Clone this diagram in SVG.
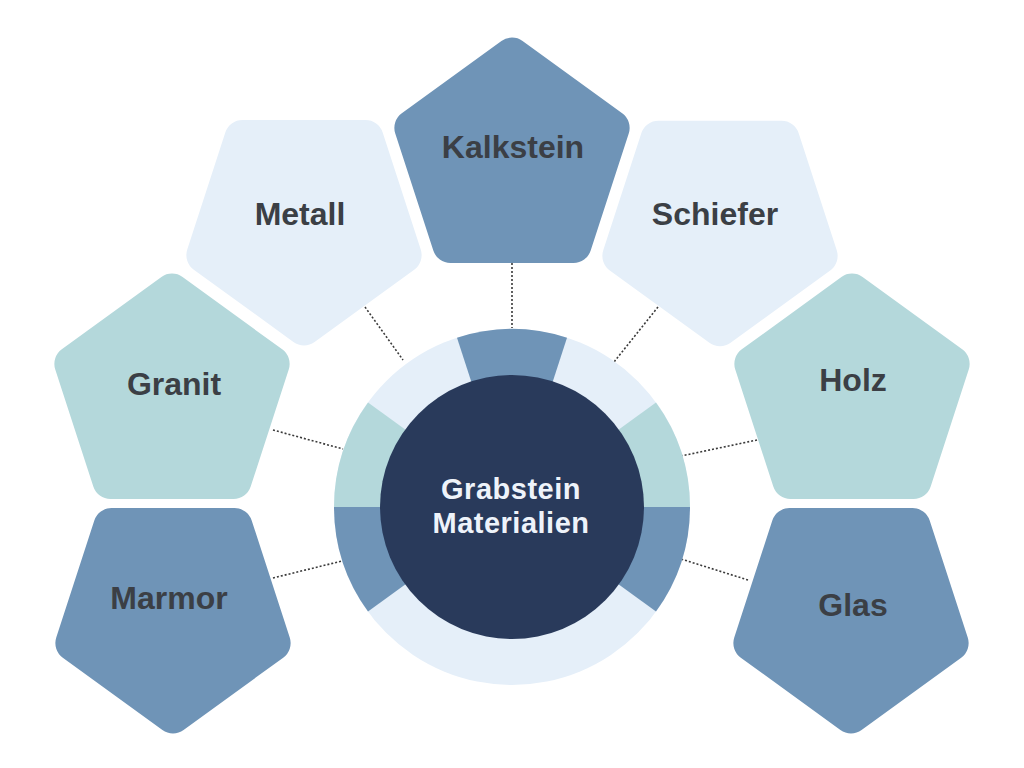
<svg xmlns="http://www.w3.org/2000/svg" xmlns:xlink="http://www.w3.org/1999/xlink" width="1024" height="768" viewBox="0 0 1024 768">
<style>
.lbl{font-family:"Liberation Sans","Noto Sans",Arial,sans-serif;font-weight:bold;font-size:32px;fill:#3b3f45;text-anchor:middle}
.ctr{font-family:"Liberation Sans","Noto Sans",Arial,sans-serif;font-weight:bold;font-size:29px;letter-spacing:0.5px;fill:#eef3fa;text-anchor:middle}
.blue{fill:#6f94b7}
.teal{fill:#b4d8db}
.light{fill:#e5eff9}
.conn{stroke:#3a3a3a;stroke-width:1.6;stroke-dasharray:2 2;fill:none}
</style>
<defs>
<path id="pent" d="M-10.58,-119.31 A18,18 0 0 1 10.58,-119.31 L110.20,-46.93 A18,18 0 0 1 116.74,-26.80 L78.69,90.30 A18,18 0 0 1 61.57,102.74 L-61.57,102.74 A18,18 0 0 1 -78.69,90.30 L-116.74,-26.80 A18,18 0 0 1 -110.20,-46.93 Z"/>
</defs>
<rect width="1024" height="768" fill="#ffffff"/>
<g id="connectors">
<line class="conn" x1="512" y1="263" x2="512" y2="328"/>
<line class="conn" x1="365" y1="307" x2="403" y2="360"/>
<line class="conn" x1="658" y1="307" x2="614" y2="362"/>
<line class="conn" x1="273" y1="430" x2="343" y2="449"/>
<line class="conn" x1="757" y1="440" x2="681" y2="456"/>
<line class="conn" x1="273" y1="578" x2="342" y2="561"/>
<line class="conn" x1="748" y1="580" x2="681" y2="559"/>
</g>
<g id="hub">
<circle class="light" cx="512" cy="507" r="178"/>
<path class="blue" d="M512,507 L457.0,337.7 A178,178 0 0 1 567.0,337.7 Z"/>
<path class="teal" d="M512,507 L656.0,402.4 A178,178 0 0 1 690,507 Z"/>
<path class="blue" d="M512,507 L690,507 A178,178 0 0 1 656.0,611.6 Z"/>
<path class="blue" d="M512,507 L368.0,611.6 A178,178 0 0 1 334,507 Z"/>
<path class="teal" d="M512,507 L334,507 A178,178 0 0 1 368.0,402.4 Z"/>
<circle cx="512" cy="507" r="132" fill="#293a5b"/>
<text class="ctr" x="511" y="499">Grabstein</text>
<text class="ctr" x="511" y="533">Materialien</text>
</g>
<g id="kalkstein">
<use xlink:href="#pent" href="#pent" class="blue" transform="translate(512,160.3)"/>
<text class="lbl" x="513" y="158">Kalkstein</text>
</g>
<g id="metall">
<use xlink:href="#pent" href="#pent" class="light" transform="translate(304,222.7) scale(1,-1)"/>
<text class="lbl" x="300" y="225">Metall</text>
</g>
<g id="schiefer">
<use xlink:href="#pent" href="#pent" class="light" transform="translate(720,223.5) scale(1,-1)"/>
<text class="lbl" x="715" y="225">Schiefer</text>
</g>
<g id="granit">
<use xlink:href="#pent" href="#pent" class="teal" transform="translate(172,396.3)"/>
<text class="lbl" x="174" y="395">Granit</text>
</g>
<g id="holz">
<use xlink:href="#pent" href="#pent" class="teal" transform="translate(852,396.3)"/>
<text class="lbl" x="853" y="391">Holz</text>
</g>
<g id="marmor">
<use xlink:href="#pent" href="#pent" class="blue" transform="translate(173,610.7) scale(1,-1)"/>
<text class="lbl" x="169" y="609">Marmor</text>
</g>
<g id="glas">
<use xlink:href="#pent" href="#pent" class="blue" transform="translate(851,610.7) scale(1,-1)"/>
<text class="lbl" x="853" y="616">Glas</text>
</g>
</svg>
